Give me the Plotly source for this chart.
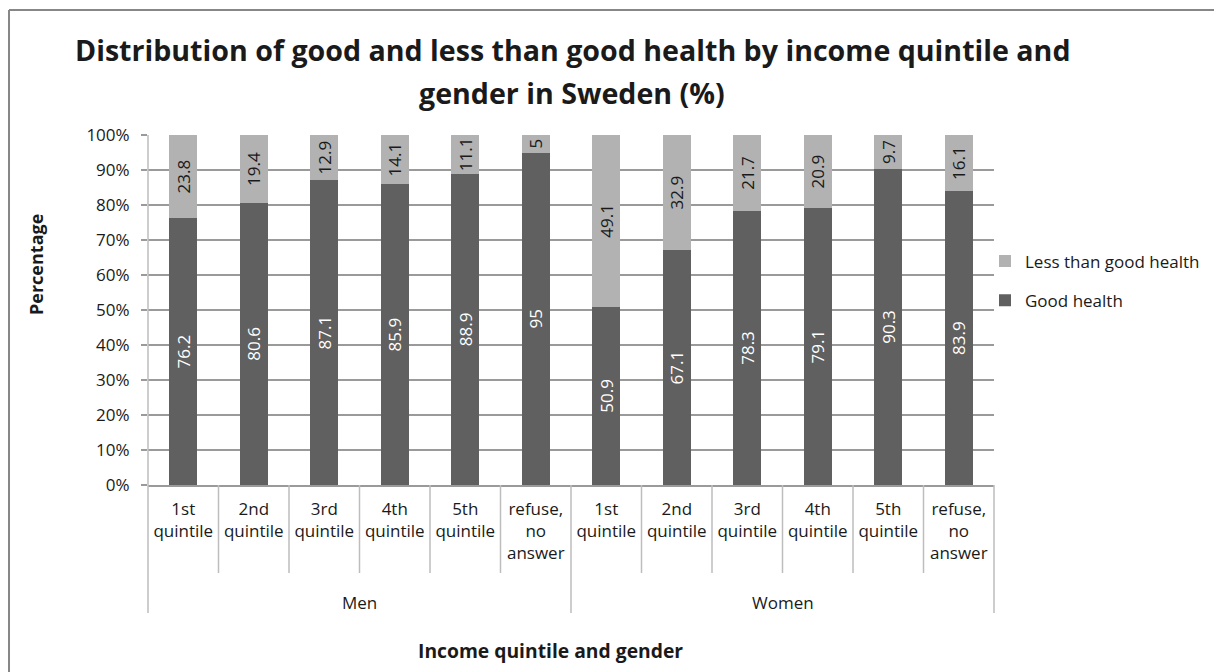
import plotly.graph_objects as go

# Survey results: share of respondents (%) by gender and income quintile
genders = ["Men"] * 6 + ["Women"] * 6
quintiles = ["1st<br>quintile", "2nd<br>quintile", "3rd<br>quintile", "4th<br>quintile",
             "5th<br>quintile", "refuse,<br>no<br>answer"] * 2
good_health = [76.2, 80.6, 87.1, 85.9, 88.9, 95, 50.9, 67.1, 78.3, 79.1, 90.3, 83.9]
less_than_good = [23.8, 19.4, 12.9, 14.1, 11.1, 5, 49.1, 32.9, 21.7, 20.9, 9.7, 16.1]
group_names = ["Men", "Women"]
y_ticks = list(range(0, 101, 10))

# one unique category per bar; the quintile text is shown as the tick label
categories = [f"{g} | {q}" for g, q in zip(genders, quintiles)]

FONT = "Open Sans"
TXT = "#1a1a1a"
DARK = "#606060"
LIGHT = "#b2b2b2"
GRID = "#9a9a9a"
SEP = "#bdbdbd"

# plot area in pixels (page is 1214 x 672)
L, R, T, B = 148, 994, 135, 485
W, H = R - L, B - T


def px_x(x):
    return (x - L) / W


def px_y(y):
    return (B - y) / H


fig = go.Figure()
fig.add_trace(go.Bar(
    x=categories, y=good_health, name="Good health",
    marker=dict(color=DARK, line=dict(width=0)),
    text=[f"{v:g}" for v in good_health], textposition="inside",
    insidetextanchor="middle", textangle=-90,
    textfont=dict(family=FONT, size=17, color="white"),
    legendgroup="good", legendrank=2, hoverinfo="skip",
))
fig.add_trace(go.Bar(
    x=categories, y=less_than_good, name="Less than good health",
    marker=dict(color=LIGHT, line=dict(width=0)),
    text=[f"{v:g}" for v in less_than_good], textposition="inside",
    insidetextanchor="middle", textangle=-90,
    textfont=dict(family=FONT, size=17, color=TXT),
    legendgroup="less", legendrank=1, hoverinfo="skip",
))

n = len(categories)
per_group = n // len(group_names)
shapes = []
# category separators under the axis; group boundaries run deeper
for k in range(n + 1):
    long_line = k % per_group == 0
    y_end = 613 if long_line else 573
    shapes.append(dict(type="line", xref="paper", yref="paper",
                       x0=k / n, x1=k / n, y0=1 if k == 0 else 0, y1=px_y(y_end),
                       line=dict(color=SEP, width=1.5)))
# outer chart frame (top and left edges fall inside the page)
frame = dict(color="#878787", width=2)
shapes.append(dict(type="line", xref="paper", yref="paper",
                   x0=px_x(9), x1=px_x(1230), y0=px_y(10), y1=px_y(10), line=frame))
shapes.append(dict(type="line", xref="paper", yref="paper",
                   x0=px_x(9), x1=px_x(9), y0=px_y(10), y1=px_y(700), line=frame))

annotations = [
    dict(text="<b>Distribution of good and less than good health by income quintile and</b>",
         x=px_x(572), y=px_y(50), xref="paper", yref="paper", showarrow=False,
         xanchor="center", yanchor="middle", font=dict(family=FONT, size=28.6, color=TXT)),
    dict(text="<b>gender in Sweden (%)</b>",
         x=px_x(572), y=px_y(92), xref="paper", yref="paper", showarrow=False,
         xanchor="center", yanchor="middle", font=dict(family=FONT, size=28.6, color=TXT)),
    dict(text="<b>Percentage</b>", textangle=-90,
         x=px_x(36), y=px_y(265), xref="paper", yref="paper", showarrow=False,
         xanchor="center", yanchor="middle", font=dict(family=FONT, size=18, color=TXT)),
    dict(text="<b>Income quintile and gender</b>",
         x=px_x(550), y=px_y(650), xref="paper", yref="paper", showarrow=False,
         xanchor="center", yanchor="middle", font=dict(family=FONT, size=19.3, color=TXT)),
]
# gender group labels centred under their six categories
for i, g in enumerate(group_names):
    annotations.append(dict(text=g, x=(i + 0.5) / len(group_names), y=px_y(602),
                            xref="paper", yref="paper", showarrow=False,
                            xanchor="center", yanchor="middle",
                            font=dict(family=FONT, size=17, color=TXT)))

fig.update_layout(
    width=1214, height=672,
    margin=dict(l=L, r=1214 - R, t=T, b=672 - B, autoexpand=False),
    paper_bgcolor="white", plot_bgcolor="white",
    barmode="stack", bargap=0.6,
    uniformtext=dict(minsize=17, mode="show"),
    font=dict(family=FONT, size=17, color=TXT),
    showlegend=True,
    legend=dict(x=px_x(985), y=px_y(281), xanchor="left", yanchor="middle",
                traceorder="grouped", tracegroupgap=14,
                font=dict(family=FONT, size=17, color=TXT), bgcolor="rgba(0,0,0,0)"),
    shapes=shapes, annotations=annotations,
)
fig.update_xaxes(type="category", tickvals=categories, ticktext=quintiles,
                 ticks="outside", ticklen=8, tickcolor="rgba(0,0,0,0)",
                 showline=True, linecolor=GRID, linewidth=1.5,
                 tickfont=dict(family=FONT, size=17, color=TXT), showgrid=False)
fig.update_yaxes(range=[0, 100], tickvals=y_ticks, ticktext=[f"{v}%" for v in y_ticks],
                 showgrid=True, gridcolor=GRID, gridwidth=1.5,
                 ticks="outside", ticklen=6, tickcolor=GRID, tickwidth=1.5,
                 ticklabelstandoff=8, showline=False, zeroline=False,
                 tickfont=dict(family=FONT, size=17, color=TXT))

fig.write_html("out.html")
